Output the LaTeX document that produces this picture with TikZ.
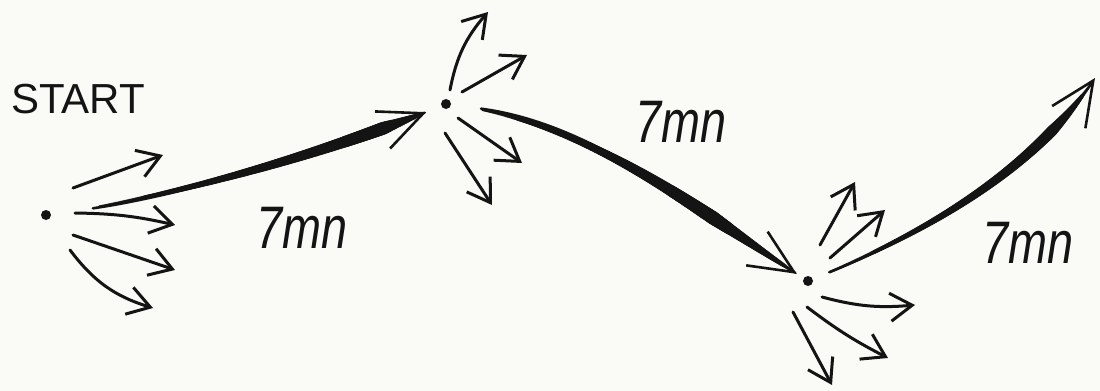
\documentclass[tikz,border=0pt]{standalone}
\usepackage{fontspec}
\setmainfont{Liberation Sans}
\usepackage{tikz}
\usetikzlibrary{arrows.meta,decorations.markings}
\definecolor{SketchInk}{HTML}{141414}
\definecolor{SketchPaper}{HTML}{FAFAF7}
\newcommand{\handlabel}[1]{\scalebox{0.78}[1]{\itshape #1}}
\tikzset{
  dot/.style={circle, fill=SketchInk, inner sep=0pt, minimum size=5pt},
  spray/.style={-{Straight Barb[length=11pt, width=14pt]}, line width=1.5pt, draw=SketchInk, line cap=round},
  leap/.style={-{Straight Barb[length=22pt, width=20pt]}, line width=1.3pt, draw=SketchInk, line cap=round},
  taper/.style n args={4}{postaction={decorate, decoration={markings,
      mark=between positions #1 and #2 step 0.5pt with {
        \pgfmathsetmacro\tf{\pgfkeysvalueof{/pgf/decoration/mark info/distance from start}/\pgfdecoratedpathlength}
        \pgfmathsetmacro\tr{\tf<#3 ? 0.6+(#4-0.6)*(\tf-#1)/(#3-#1) : 0.6+(#4-0.6)*(#2-\tf)/(#2-#3)}
        \fill[SketchInk] (0,0) circle (\tr pt);}}}},
  steplabel/.style={font=\fontsize{30}{30}\selectfont, text=SketchInk, inner sep=0pt},
  startlabel/.style={font=\fontsize{21}{21}\selectfont, text=SketchInk, inner sep=0pt}
}
\begin{document}
\begin{tikzpicture}[x=0.5pt, y=-0.5pt]
\fill[SketchPaper] (0,0) rectangle (1100,391);
\useasboundingbox (0,0) rectangle (1100,391);
\node[dot] (a) at (46,215) {};
\node[dot] (b) at (446,104) {};
\node[dot] (c) at (808,281) {};
\coordinate (goal) at (1095,78);
\node[startlabel] (start) at (78,99) {START};
\node[steplabel] (ab) at (302,228) {\handlabel{7mn}};
\node[steplabel] (bc) at (681,122) {\handlabel{7mn}};
\node[steplabel] (cg) at (1028,243) {\handlabel{7mn}};

\draw[leap, shorten <=21pt, shorten >=8pt, taper={0.12}{0.95}{0.84}{3.2}] (a) .. controls +(140,-20) and +(-110,45) .. (b);
\draw[leap, shorten <=15pt, shorten >=4pt, taper={0.08}{0.97}{0.72}{3.4}] (b) .. controls +(150,20) and +(-110,-70) .. (c);
\draw[leap, shorten <=9pt, taper={0.05}{0.96}{0.8}{2.8}] (c) .. controls +(110,-45) and +(-65,97) .. (goal);

\draw[spray] (a) ++(27,-27) -- ++(90,-33);
\draw[spray] (a) ++(29,-2) to[bend left=6] ++(100,12);
\draw[spray] (a) ++(27,20) -- ++(102,35);
\draw[spray] (a) ++(24,35) to[bend right=18] ++(83,58);

\draw[spray] (b) ++(4,-14) to[bend left=15] ++(38,-78);
\draw[spray] (b) ++(16,-12) -- ++(65,-37);
\draw[spray] (b) ++(12,14) -- ++(64,45);
\draw[spray] (b) ++(-1,29) -- ++(47,72);

\draw[spray] (c) ++(12,-36) -- ++(35,-63);
\draw[spray] (c) ++(22,-23) -- ++(55,-48);
\draw[spray] (c) ++(14,16) to[bend right=10] ++(93,8);
\draw[spray] (c) ++(-1,26) to[bend right=5] ++(81,51);
\draw[spray] (c) ++(-15,31) -- ++(39,73);
\end{tikzpicture}
\end{document}
